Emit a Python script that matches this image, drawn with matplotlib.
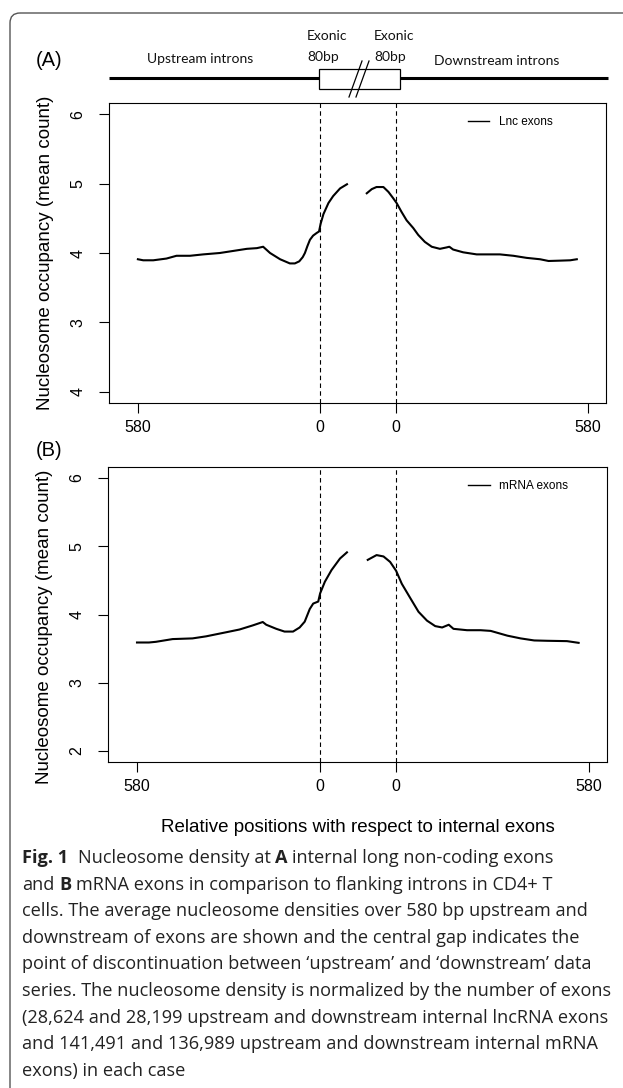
import numpy as np
import matplotlib.pyplot as plt
from matplotlib.patches import FancyBboxPatch, Rectangle
from matplotlib.lines import Line2D

# (A) lnc exons: positions in bp relative to exon boundary
lnc_up_pos = [-580, -563, -531, -489, -457, -414, -372, -319, -276, -233, -201, -181,
              -159, -127, -96, -80, -66, -55, -48, -40, -32, -22, -10, -3,
              2, 11, 27, 42, 64, 86]
lnc_up_val = [3.91, 3.895, 3.895, 3.92, 3.96, 3.96, 3.98, 4.00, 4.03, 4.06, 4.07, 4.09,
              4.00, 3.91, 3.85, 3.85, 3.88, 3.94, 4.00, 4.10, 4.19, 4.25, 4.29, 4.31,
              4.42, 4.56, 4.72, 4.82, 4.93, 4.99]
lnc_dn_pos = [-93, -77, -62, -40, -24, -9, 2, 18, 34, 55, 71, 92, 114, 140, 161, 170,
              182, 214, 257, 300, 331, 374, 416, 459, 486, 523, 555, 576]
lnc_dn_val = [4.86, 4.92, 4.95, 4.95, 4.88, 4.79, 4.72, 4.59, 4.47, 4.36, 4.26, 4.16,
              4.09, 4.06, 4.08, 4.09, 4.05, 4.01, 3.98, 3.98, 3.98, 3.96, 3.93, 3.91,
              3.885, 3.89, 3.895, 3.91]

# (B) mRNA exons
mrna_up_pos = [-580, -542, -520, -467, -404, -361, -297, -255, -213, -181, -170, -138,
               -112, -85, -64, -48, -32, -21, -5, 1, 16, 37, 64, 86]
mrna_up_val = [3.59, 3.59, 3.60, 3.64, 3.65, 3.68, 3.74, 3.78, 3.84, 3.89, 3.85, 3.79,
               3.75, 3.75, 3.81, 3.895, 4.08, 4.16, 4.19, 4.31, 4.48, 4.65, 4.82, 4.91]
mrna_dn_pos = [-90, -62, -40, -19, 0, 18, 45, 71, 98, 124, 146, 167, 182, 225, 268, 300,
               353, 395, 438, 480, 542, 579]
mrna_dn_val = [4.80, 4.87, 4.85, 4.77, 4.64, 4.45, 4.24, 4.04, 3.91, 3.83, 3.81, 3.85,
               3.79, 3.77, 3.77, 3.76, 3.69, 3.65, 3.62, 3.615, 3.61, 3.585]

x_tick_labels = ['580', '0', '0', '580']
y_ticks = [2, 3, 4, 5, 6]
y_labels_a = ['4', '3', '4', '5', '6']
y_labels_b = ['2', '3', '4', '5', '6']

caption = [
    [("Fig. 1", True, 0), ("Nucleosome density at", False, 2), ("A", True, 1),
     ("internal long non-coding exons", False, 1)],
    [("and", False, 0), ("B", True, 1),
     ("mRNA exons in comparison to flanking introns in CD4+ T", False, 1)],
    [("cells. The average nucleosome densities over 580 bp upstream and", False, 0)],
    [("downstream of exons are shown and the central gap indicates the", False, 0)],
    [("point of discontinuation between \u2018upstream\u2019 and \u2018downstream\u2019 data", False, 0)],
    [("series. The nucleosome density is normalized by the number of exons", False, 0)],
    [("(28,624 and 28,199 upstream and downstream internal lncRNA exons", False, 0)],
    [("and 141,491 and 136,989 upstream and downstream internal mRNA", False, 0)],
    [("exons) in each case", False, 0)],
]

DOWN_OFFSET = 242
XTICKS = [-580, 0, DOWN_OFFSET, 854]
SANS = 'Liberation Sans'

W, H = 623, 1088
fig = plt.figure(figsize=(W / 100, H / 100), dpi=100)

# overlay in pixel coords for frame, schematic and caption
ov = fig.add_axes([0, 0, 1, 1])
ov.set_xlim(0, W)
ov.set_ylim(H, 0)
ov.axis('off')

ov.add_patch(FancyBboxPatch((10, 13), 700, 1200, boxstyle='round,pad=0,rounding_size=10',
                            fc='none', ec='#555555', lw=1))

# gene schematic
ov.plot([109, 608], [78, 78], color='black', lw=2.2, solid_capstyle='butt')
ov.add_patch(Rectangle((319, 69), 81, 20, fc='white', ec='black', lw=0.9, zorder=3))
ov.plot([349, 362], [97, 61], color='black', lw=0.9, zorder=4)
ov.plot([356, 369], [97, 61], color='black', lw=0.9, zorder=4)
sk = dict(family='Lato', fontsize=10, va='center', color='#111111')
ov.text(200, 59, 'Upstream introns', ha='center', **sk)
ov.text(497, 61, 'Downstream introns', ha='center', **sk)
ov.text(307, 36, 'Exonic', ha='left', **sk)
ov.text(307, 57, '80bp', ha='left', **sk)
ov.text(374, 36, 'Exonic', ha='left', **sk)
ov.text(374, 57, '80bp', ha='left', **sk)

ov.text(49, 60, '(A)', family=SANS, fontsize=14.5, ha='center', va='center')
ov.text(49, 451, '(B)', family=SANS, fontsize=14.5, ha='center', va='center')
ov.text(358, 827, 'Relative positions with respect to internal exons', family=SANS,
        fontsize=13.5, ha='center', va='center')


def panel(rect, up_pos, up_val, dn_pos, dn_val, name, ylabels, label_y):
    ax = fig.add_axes(rect)
    ax.plot(up_pos, up_val, color='black', lw=1.5)
    ax.plot(np.array(dn_pos) + DOWN_OFFSET, dn_val, color='black', lw=1.5)
    for xv in (0, DOWN_OFFSET):
        ax.axvline(xv, color='black', lw=0.8, dashes=(4, 3))
    ax.set_xlim(-672, 911)
    ax.set_ylim(1.84, 6.16)
    ax.set_xticks(XTICKS)
    ax.set_xticklabels(x_tick_labels, family=SANS, fontsize=11.5)
    ax.set_yticks(y_ticks)
    ax.set_yticklabels(ylabels, family=SANS, fontsize=11.5, rotation=90, va='center')
    ax.tick_params(axis='x', length=7, width=0.8, pad=5)
    ax.tick_params(axis='y', length=7, width=0.8, pad=10)
    for sp in ax.spines.values():
        sp.set_linewidth(0.8)
    ax.set_ylabel('Nucleosome occupancy (mean count)', family=SANS, fontsize=13.5)
    ax.yaxis.set_label_coords(-0.111, label_y)
    h = Line2D([], [], color='black', lw=1)
    ax.legend([h], [name], loc='upper left', bbox_to_anchor=(0.722, 0.955), frameon=False,
              prop={'family': SANS, 'size': 8.5}, handlelength=1.8, handletextpad=0.8,
              borderpad=0, borderaxespad=0)
    return ax


panel([109 / W, 1 - 403 / H, 497 / W, 300 / H], lnc_up_pos, lnc_up_val,
      lnc_dn_pos, lnc_dn_val, 'Lnc exons', y_labels_a, 0.5)
panel([108 / W, 1 - 762 / H, 499 / W, 295 / H], mrna_up_pos, mrna_up_val,
      mrna_dn_pos, mrna_dn_val, 'mRNA exons', y_labels_b, 0.458)

# caption with bold pieces
renderer = fig.canvas.get_renderer()
CAP = dict(family='Open Sans', fontsize=13.1, va='center', ha='left', color='#222222')
probe = ov.text(0, 0, 'a a', **CAP)
probe2 = ov.text(0, 0, 'aa', **CAP)
space_w = probe.get_window_extent(renderer).width - probe2.get_window_extent(renderer).width
probe.remove()
probe2.remove()

y = 858
for line in caption:
    x = 22
    for s, bold, gap in line:
        x += gap * space_w
        t = ov.text(x, y, s, weight='bold' if bold else 'normal', **CAP)
        x += t.get_window_extent(renderer).width
    y += 26.6

fig.savefig('out.png', dpi=100)
